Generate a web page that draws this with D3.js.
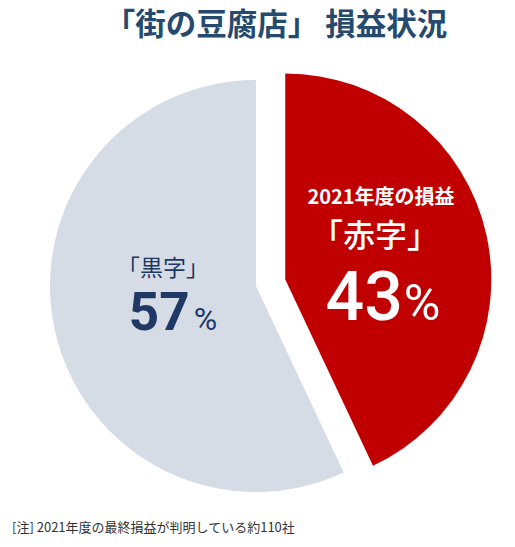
<!DOCTYPE html>
<html>
<head>
<meta charset="utf-8">
<script src="https://cdn.jsdelivr.net/npm/d3@7"></script>
<style>
  body { margin: 0; background: #fff; }
  svg { display: block; font-family: "Noto Sans CJK JP", "Noto Sans", sans-serif; }
</style>
</head>
<body>
<svg id="chart" width="515" height="547"></svg>
<script>
// chart values
const categories = ["赤字", "黒字"];
const shares = [43, 57];
const titleText = "「街の豆腐店」 損益状況";
const noteText = "[注] 2021年度の最終損益が判明している約110社";

const svg = d3.select("#chart");
const cx = 256, cy = 286, radius = 206;

// title
svg.append("text")
  .attr("x", 276)
  .attr("y", 35)
  .attr("text-anchor", "middle")
  .attr("font-size", 30.5)
  .attr("font-weight", "bold")
  .attr("fill", "#264A6E")
  .text(titleText);

const color = d3.scaleOrdinal()
  .domain(categories)
  .range(["#C00000", "#D6DCE5"]);

const pie = d3.pie().sort(null).value(d => d.value);
const arcs = pie(categories.map((c, i) => ({ name: c, value: shares[i] })));
const arc = d3.arc().innerRadius(0).outerRadius(radius);

const g = svg.append("g").attr("transform", `translate(${cx},${cy})`);

// red slice pulled out from the center
const explode = 30;
g.selectAll("path")
  .data(arcs)
  .join("path")
  .attr("d", arc)
  .attr("fill", d => color(d.data.name))
  .attr("transform", d => {
    if (d.data.name !== "赤字") return null;
    const a = (d.startAngle + d.endAngle) / 2;
    return `translate(${Math.sin(a) * explode},${-Math.cos(a) * explode})`;
  });

// red label
const red = svg.append("g").attr("fill", "#fff").attr("text-anchor", "middle");
red.append("text")
  .attr("x", 381).attr("y", 204)
  .attr("font-size", 20).attr("font-weight", "bold")
  .text("2021年度の損益");
red.append("text")
  .attr("x", 375).attr("y", 247)
  .attr("font-size", 32).attr("font-weight", 500)
  .text("「" + categories[0] + "」");
const redPct = red.append("text")
  .attr("x", 383).attr("y", 320)
  .attr("font-family", "Roboto, sans-serif")
  .attr("font-weight", 500);
redPct.append("tspan").attr("font-size", 68).text(shares[0]);
redPct.append("tspan").attr("font-size", 50).attr("font-weight", "normal").attr("dx", 1).text("%");

// gray label
const gray = svg.append("g").attr("fill", "#1F3864").attr("text-anchor", "middle");
gray.append("text")
  .attr("x", 163).attr("y", 276)
  .attr("font-size", 23)
  .text("「" + categories[1] + "」");
const grayPct = gray.append("text")
  .attr("x", 173).attr("y", 330)
  .attr("font-family", "Roboto, sans-serif")
  .attr("font-weight", "bold");
grayPct.append("tspan").attr("font-size", 53).text(shares[1]);
grayPct.append("tspan").attr("font-size", 32).attr("font-weight", "normal").attr("dx", 4).text("%");

// note
svg.append("text")
  .attr("x", 12).attr("y", 532)
  .attr("font-size", 13)
  .attr("fill", "#333")
  .text(noteText);
</script>
</body>
</html>
